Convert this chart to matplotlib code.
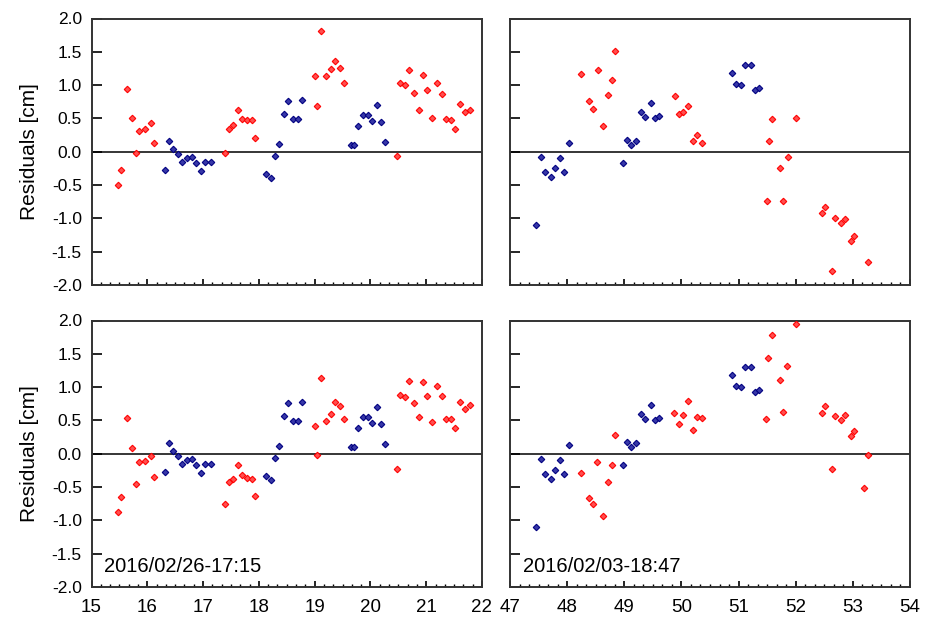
import numpy as np
import matplotlib
matplotlib.use("Agg")
import matplotlib.pyplot as plt
from matplotlib.ticker import MultipleLocator, FormatStrFormatter

plt.rcParams['font.family'] = ['Liberation Sans', 'DejaVu Sans']

# ---- left side (hours 15-22) ----
blue_x_l = [16.31, 16.39, 16.46, 16.55, 16.63, 16.72, 16.81, 16.87, 16.96, 17.04, 17.14,
            18.13, 18.22, 18.29, 18.37, 18.45, 18.53, 18.62, 18.70, 18.78,
            19.65, 19.70, 19.78, 19.86, 19.95, 20.03, 20.12, 20.19, 20.27]
blue_y_l = [-0.275, 0.16, 0.04, -0.04, -0.15, -0.09, -0.08, -0.175, -0.29, -0.155, -0.15,
            -0.335, -0.40, -0.06, 0.115, 0.56, 0.755, 0.49, 0.49, 0.775,
            0.095, 0.10, 0.39, 0.55, 0.55, 0.465, 0.705, 0.45, 0.15]

red_x_l = [15.48, 15.52, 15.64, 15.72, 15.80, 15.86, 15.96, 16.06, 16.12,
           17.40, 17.46, 17.54, 17.63, 17.70, 17.79, 17.88, 17.93,
           19.01, 19.05, 19.11, 19.21, 19.29, 19.37, 19.45, 19.52,
           20.48, 20.53, 20.62, 20.70, 20.78, 20.87, 20.95, 21.02, 21.11,
           21.20, 21.29, 21.36, 21.45, 21.52, 21.60, 21.69, 21.78]
red_y_top_l = [-0.50, -0.27, 0.945, 0.50, -0.025, 0.305, 0.34, 0.43, 0.135,
               -0.015, 0.34, 0.405, 0.63, 0.49, 0.47, 0.475, 0.21,
               1.14, 0.68, 1.81, 1.14, 1.235, 1.355, 1.25, 1.025,
               -0.07, 1.035, 1.00, 1.225, 0.885, 0.63, 1.15, 0.92, 0.51,
               1.035, 0.865, 0.49, 0.47, 0.335, 0.715, 0.60, 0.63]
red_y_bot_l = [-0.87, -0.645, 0.54, 0.09, -0.45, -0.13, -0.105, -0.04, -0.345,
               -0.76, -0.42, -0.38, -0.17, -0.325, -0.36, -0.375, -0.64,
               0.415, -0.015, 1.135, 0.49, 0.59, 0.78, 0.715, 0.515,
               -0.235, 0.875, 0.85, 1.085, 0.765, 0.55, 1.08, 0.87, 0.48,
               1.015, 0.865, 0.515, 0.515, 0.39, 0.78, 0.675, 0.73]

# ---- right side (hours 47-54) ----
blue_x_r = [47.46, 47.54, 47.62, 47.71, 47.79, 47.87, 47.95, 48.03,
            48.97, 49.04, 49.12, 49.21, 49.29, 49.36, 49.47, 49.54, 49.60,
            50.89, 50.96, 51.04, 51.11, 51.21, 51.29, 51.36]
blue_y_r = [-1.095, -0.085, -0.30, -0.38, -0.24, -0.09, -0.30, 0.135,
            -0.165, 0.17, 0.10, 0.16, 0.60, 0.515, 0.735, 0.51, 0.54,
            1.185, 1.02, 1.00, 1.295, 1.295, 0.925, 0.96]

red_x_top_r = [48.25, 48.38, 48.46, 48.54, 48.63, 48.72, 48.79, 48.83,
               49.88, 49.95, 50.03, 50.12, 50.20, 50.28, 50.36,
               51.49, 51.53, 51.59, 51.73, 51.77, 51.86, 52.01,
               52.46, 52.52, 52.64, 52.69, 52.80, 52.87, 52.97, 53.02, 53.26]
red_y_top_r = [1.17, 0.755, 0.635, 1.23, 0.38, 0.85, 1.075, 1.515,
               0.83, 0.57, 0.59, 0.69, 0.16, 0.245, 0.135,
               -0.735, 0.16, 0.485, -0.245, -0.74, -0.075, 0.50,
               -0.925, -0.83, -1.79, -0.995, -1.065, -1.015, -1.335, -1.26, -1.655]

red_x_bot_r = [48.24, 48.38, 48.45, 48.53, 48.62, 48.72, 48.78, 48.83,
               49.87, 49.95, 50.03, 50.12, 50.20, 50.28, 50.36,
               51.48, 51.52, 51.58, 51.73, 51.77, 51.85, 52.01,
               52.46, 52.52, 52.64, 52.69, 52.80, 52.87, 52.96, 53.02, 53.19, 53.26]
red_y_bot_r = [-0.29, -0.66, -0.75, -0.13, -0.935, -0.43, -0.175, 0.28,
               0.615, 0.45, 0.575, 0.795, 0.355, 0.55, 0.53,
               0.52, 1.43, 1.775, 1.11, 0.63, 1.32, 1.945,
               0.61, 0.72, -0.23, 0.565, 0.51, 0.58, 0.265, 0.34, -0.51, -0.025]

stamps = ['2016/02/26-17:15', '2016/02/03-18:47']

W, H = 933, 617
fig = plt.figure(figsize=(W / 100, H / 100), dpi=100)

def box(x0, x1, y0, y1):
    return [x0 / W, 1 - y1 / H, (x1 - x0) / W, (y1 - y0) / H]

ax_tl = fig.add_axes(box(91.5, 482, 18.5, 285))
ax_tr = fig.add_axes(box(510, 910, 18.5, 285))
ax_bl = fig.add_axes(box(91.5, 482, 320.5, 587))
ax_br = fig.add_axes(box(510, 910, 320.5, 587))

panels = [
    (ax_tl, blue_x_l, blue_y_l, red_x_l, red_y_top_l, (15, 22)),
    (ax_tr, blue_x_r, blue_y_r, red_x_top_r, red_y_top_r, (47, 54)),
    (ax_bl, blue_x_l, blue_y_l, red_x_l, red_y_bot_l, (15, 22)),
    (ax_br, blue_x_r, blue_y_r, red_x_bot_r, red_y_bot_r, (47, 54)),
]

for i, (ax, bx, by, rx, ry, xl) in enumerate(panels):
    ax.axhline(0, color='black', lw=1.1, zorder=1)
    ax.plot(bx, by, ls='none', marker='D', ms=3.3, mfc='#3838a8', mec='#000080',
            mew=0.8, zorder=3)
    ax.plot(rx, ry, ls='none', marker='D', ms=3.3, mfc='#ff5050', mec='#ff0000',
            mew=0.8, zorder=3)
    ax.set_xlim(*xl)
    ax.set_ylim(-2, 2)
    ax.xaxis.set_major_locator(MultipleLocator(1))
    ax.xaxis.set_minor_locator(MultipleLocator(1 / 6))
    ax.yaxis.set_major_locator(MultipleLocator(0.5))
    ax.yaxis.set_major_formatter(FormatStrFormatter('%.1f'))
    ax.tick_params(axis='y', which='major', direction='in', length=7.5, width=1.2,
                   labelsize=12.5, pad=7)
    ax.tick_params(axis='x', which='major', direction='in', length=4, width=1.2,
                   labelsize=13.5, pad=9)
    ax.tick_params(axis='x', which='minor', direction='in', length=2.2, width=1.0)
    for s in ax.spines.values():
        s.set_linewidth(1.4)
        s.set_color('#333333')
    if i < 2:
        ax.tick_params(axis='x', labelbottom=False)
    if i % 2 == 1:
        ax.tick_params(axis='y', labelleft=False)
    else:
        ax.set_ylabel('Residuals [cm]', fontsize=15, labelpad=9)
    if i >= 2:
        ax.text(0.032, 0.077, stamps[i - 2], transform=ax.transAxes,
                fontsize=14.5, ha='left', va='center')

fig.savefig('out.png', dpi=100)
